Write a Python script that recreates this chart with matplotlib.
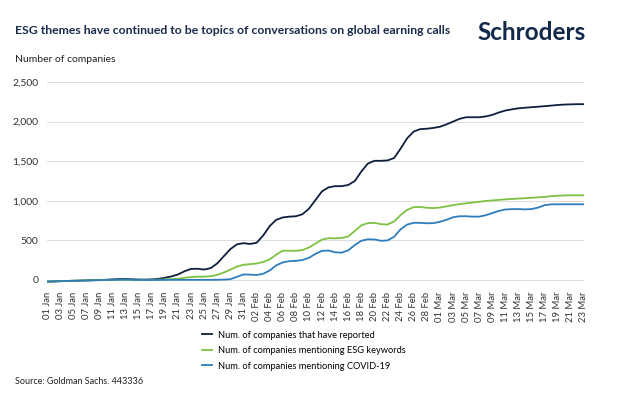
import matplotlib
matplotlib.use("Agg")
import matplotlib.pyplot as plt
import pandas as pd

plt.rcParams['font.family'] = ['Lato', 'DejaVu Sans']

# daily dates, 01 Jan to 23 Mar 2020
dates = pd.date_range("2020-01-01", "2020-03-23", freq="D")

reported = [-20, -18, -15, -12, -10, -8, -5, -3, 0, 3,
            8, 12, 14, 10, 6, 5, 8, 15, 28, 45,
            70, 110, 140, 142, 132, 150, 210, 300, 390, 450,
            465, 455, 470, 560, 680, 760, 790, 800, 805, 830,
            900, 1010, 1120, 1170, 1185, 1185, 1200, 1250, 1370, 1470,
            1505, 1505, 1510, 1540, 1660, 1790, 1875, 1905, 1910, 1920,
            1935, 1965, 2000, 2035, 2055, 2055, 2055, 2065, 2085, 2115,
            2140, 2155, 2168, 2175, 2182, 2188, 2195, 2202, 2210, 2215,
            2218, 2220, 2220]

esg = [-20, -18, -15, -12, -10, -8, -6, -4, -2, 0,
       2, 4, 5, 4, 2, 2, 3, 5, 8, 11,
       15, 28, 38, 42, 42, 48, 65, 95, 130, 170,
       192, 200, 208, 228, 260, 320, 370, 370, 368, 378,
       410, 460, 510, 528, 526, 530, 550, 620, 690, 718,
       722, 705, 700, 740, 820, 885, 920, 922, 912, 908,
       915, 930, 945, 958, 968, 978, 988, 998, 1005, 1012,
       1018, 1023, 1028, 1033, 1038, 1044, 1050, 1058, 1064, 1068,
       1070, 1070, 1070]

covid = [-20, -18, -15, -12, -10, -8, -6, -4, -2, 0,
         1, 3, 4, 3, 1, 0, 0, 1, 2, 2,
         2, 2, 2, 2, 2, 2, 3, 5, 10, 40,
         70, 68, 63, 78, 120, 185, 222, 238, 242, 252,
         280, 330, 368, 372, 350, 345, 375, 440, 495, 514,
         512, 495, 500, 545, 640, 700, 722, 722, 716, 718,
         735, 760, 792, 805, 805, 800, 800, 818, 845, 872,
         890, 895, 895, 892, 895, 915, 945, 955, 956, 956,
         956, 956, 956]

series_names = ["Num. of companies that have reported",
                "Num. of companies mentioning ESG keywords",
                "Num. of companies mentioning COVID-19"]
series_colors = ["#0e1f3d", "#7dc242", "#2f7dbb"]

tick_labels = [d.strftime("%d %b") for d in dates[::2]]
y_ticks = [0, 500, 1000, 1500, 2000, 2500]

fig = plt.figure(figsize=(6.28, 4.04), dpi=100)
ax = fig.add_axes([47/628, 1 - 284.75/404, 537/628, 202.75/404])

days = range(len(dates))
for vals, name, col in zip([reported, esg, covid], series_names, series_colors):
    ax.plot(days, vals, color=col, linewidth=1.3, label=name)

ax.set_xlim(0, len(dates) - 1)
ax.set_ylim(-60, 2500)
ax.set_yticks(y_ticks)
ax.set_yticklabels([f"{v:,}" for v in y_ticks])
ax.set_xticks(list(days)[::2])
ax.set_xticklabels(tick_labels, rotation=90)
ax.tick_params(axis='both', length=0, colors="#333333")
ax.tick_params(axis='y', pad=6, labelsize=7.5)
ax.tick_params(axis='x', pad=5, labelsize=6.8)
ax.grid(axis='y', color="#dddddd", linewidth=0.8)
ax.set_axisbelow(True)
for s in ax.spines.values():
    s.set_visible(False)

fig.text(15/628, 1 - 30/404, "ESG themes have continued to be topics of conversations on global earning calls",
         fontsize=8.8, fontweight='bold', color="#1a2b4c", va='center')
fig.text(477/628, 1 - 32/404, "Schroders", fontsize=17.5, fontweight='bold', color="#13294b",
         va='center')
fig.text(15/628, 1 - 59/404, "Number of companies", fontsize=7.5, color="#222222", va='center')
fig.text(15/628, 1 - 381/404, "Source: Goldman Sachs. 443336", fontsize=6.5, color="#222222", va='center')

fig.legend(loc='upper left', bbox_to_anchor=(198/628, 1 - 327/404), frameon=False,
           fontsize=6.7, handlelength=1.1, handletextpad=0.7, labelspacing=0.7,
           borderaxespad=0)

fig.savefig("out.png", dpi=100)
